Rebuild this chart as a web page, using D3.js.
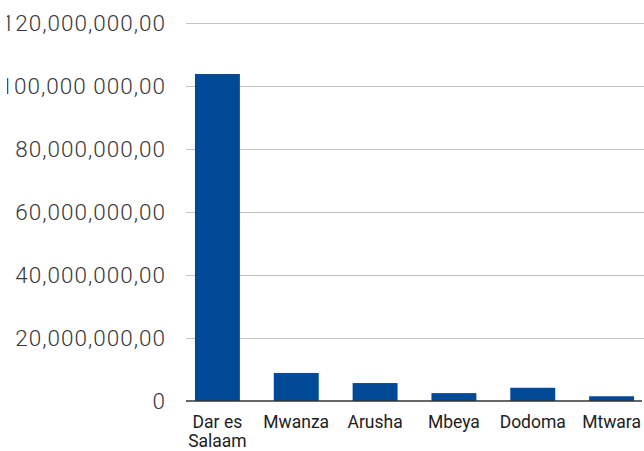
<!DOCTYPE html>
<html>
<head>
<meta charset="utf-8">
<script src="https://cdn.jsdelivr.net/npm/d3@7"></script>
<style>
  body { margin: 0; background: #fff; }
  svg { display: block; }
</style>
</head>
<body>
<div id="chart"></div>
<script>
'use strict';

// data
const regions = ['Dar es Salaam', 'Mwanza', 'Arusha', 'Mbeya', 'Dodoma', 'Mtwara'];
const values = [103800000, 8900000, 5700000, 2500000, 4200000, 1500000];
const yTicks = [0, 20000000, 40000000, 60000000, 80000000, 100000000, 120000000];
const yTickLabels = ['0', '20,000,000,00', '40,000,000,00', '60,000,000,00',
  '80,000,000,00', '100,000 000,00', '120,000,000,00'];

const w = 644;
const h = 451;
const font = 'Roboto, "Liberation Sans", Arial, sans-serif';

const svg = d3.select('#chart').append('svg')
  .attr('width', w)
  .attr('height', h);

const x = d3.scaleBand()
  .domain(regions)
  .range([178, 651])
  .paddingInner(0.43)
  .paddingOuter(0.215);

const y = d3.scaleLinear()
  .domain([0, 120000000])
  .range([401, 23]);

// grid lines
svg.append('g')
  .selectAll('line')
  .data(yTicks.slice(1))
  .join('line')
  .attr('x1', 186)
  .attr('x2', w)
  .attr('y1', d => Math.round(y(d)) + 0.5)
  .attr('y2', d => Math.round(y(d)) + 0.5)
  .attr('stroke', '#c4c4c4')
  .attr('stroke-width', 1);

// y tick labels, clipped on the left like the source
svg.append('defs').append('clipPath')
  .attr('id', 'lclip')
  .append('rect')
  .attr('x', 7).attr('y', 0).attr('width', 200).attr('height', h);

svg.append('g')
  .attr('clip-path', 'url(#lclip)')
  .selectAll('text')
  .data(yTicks)
  .join('text')
  .attr('x', 166)
  .attr('y', d => y(d))
  .attr('dy', '0.36em')
  .attr('text-anchor', 'end')
  .attr('style', 'font-family: ' + font + '; font-size: 22.5px; font-weight: 300; letter-spacing: 1px; fill: #383838;')
  .text((d, i) => yTickLabels[i]);

// bars
svg.append('g')
  .selectAll('rect')
  .data(values)
  .join('rect')
  .attr('x', (d, i) => x(regions[i]))
  .attr('width', x.bandwidth())
  .attr('y', d => y(d))
  .attr('height', d => y(0) - y(d))
  .attr('fill', '#014a97');

// baseline
svg.append('line')
  .attr('x1', 186)
  .attr('x2', 642)
  .attr('y1', 401)
  .attr('y2', 401)
  .attr('stroke', '#333')
  .attr('stroke-width', 1.5);

// category labels
const cats = svg.append('g')
  .selectAll('text')
  .data(regions)
  .join('text')
  .attr('x', d => x(d) + x.bandwidth() / 2)
  .attr('y', 428)
  .attr('text-anchor', 'middle')
  .attr('style', 'font-family: ' + font + '; font-size: 17.5px; fill: #222;');

cats.each(function(d) {
  const el = d3.select(this);
  const parts = d === 'Dar es Salaam' ? ['Dar es', 'Salaam'] : [d];
  parts.forEach((p, i) => {
    el.append('tspan')
      .attr('x', x(d) + x.bandwidth() / 2)
      .attr('dy', i === 0 ? 0 : 19)
      .text(p);
  });
});
</script>
</body>
</html>
